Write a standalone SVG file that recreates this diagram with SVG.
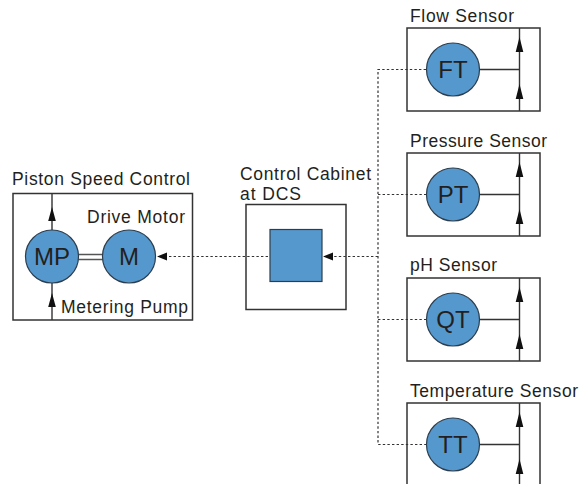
<svg xmlns="http://www.w3.org/2000/svg" width="580" height="484" viewBox="0 0 580 484">
<style>
text{font-family:"Liberation Sans",Arial,sans-serif;fill:#231f20}
.l{font-size:17.5px}
.c{font-size:24px;text-anchor:middle}
.b{fill:#fff;stroke:#333;stroke-width:1.5}
.n{fill:#5598cd;stroke:#2c3e4e;stroke-width:1.2}
.s{fill:none;stroke:#333;stroke-width:1.4}
.d{fill:none;stroke:#333;stroke-width:1.2;stroke-dasharray:2.4 2.2}
.a{fill:#111}
</style>
<rect width="580" height="484" fill="#fff"/>
<g id="flow-sensor">
<text class="l" x="410" y="21.500" textLength="104">Flow Sensor</text>
<rect class="b" x="407" y="28" width="133" height="83"/>
<path class="s" d="M479 69.500H519.500M519.500 28V111"/>
<path class="a" d="M519.500 37l3.800 15h-7.600zM519.500 84l3.800 15h-7.600z"/>
<circle class="n" cx="453" cy="69.500" r="26.500"/>
<text class="c" x="453" y="78">FT</text>
</g>
<g id="pressure-sensor">
<text class="l" x="410" y="146.500" textLength="137">Pressure Sensor</text>
<rect class="b" x="407" y="153" width="133" height="83"/>
<path class="s" d="M479 194.500H519.500M519.500 153V236"/>
<path class="a" d="M519.500 162l3.800 15h-7.600zM519.500 209l3.800 15h-7.600z"/>
<circle class="n" cx="453" cy="194.500" r="26.500"/>
<text class="c" x="453" y="203">PT</text>
</g>
<g id="ph-sensor">
<text class="l" x="410" y="270.500" textLength="87">pH Sensor</text>
<rect class="b" x="407" y="278" width="133" height="83"/>
<path class="s" d="M479 319.500H519.500M519.500 278V361"/>
<path class="a" d="M519.500 287l3.800 15h-7.600zM519.500 334l3.800 15h-7.600z"/>
<circle class="n" cx="453" cy="319.500" r="26.500"/>
<text class="c" x="453" y="328">QT</text>
</g>
<g id="temperature-sensor">
<text class="l" x="410" y="396.500" textLength="168">Temperature Sensor</text>
<rect class="b" x="407" y="403" width="133" height="83"/>
<path class="s" d="M479 444.500H519.500M519.500 403V486"/>
<path class="a" d="M519.500 412l3.800 15h-7.600zM519.500 459l3.800 15h-7.600z"/>
<circle class="n" cx="453" cy="444.500" r="26.500"/>
<text class="c" x="453" y="453">TT</text>
</g>
<g id="control-cabinet">
<text class="l" x="240" y="179.500" textLength="131">Control Cabinet</text>
<text class="l" x="240" y="200" textLength="61">at DCS</text>
<rect class="b" x="246" y="204.500" width="100" height="105"/>
<rect x="270" y="229.500" width="52" height="52" fill="#5598cd" stroke="#2c3e4e" stroke-width="1.2"/>
</g>
<g id="piston-speed-control">
<text class="l" x="12" y="185" textLength="178">Piston Speed Control</text>
<rect class="b" x="13" y="193.500" width="179.500" height="126.500"/>
<text class="l" x="87" y="223" textLength="98">Drive Motor</text>
<text class="l" x="61" y="312.500" textLength="127">Metering Pump</text>
<path class="s" d="M52 193.500V230M52 283V320" stroke-width="1.6"/>
<path class="a" d="M52 207l3.800 14h-7.600zM52 293l3.800 14h-7.600z"/>
<path fill="none" stroke="#555" stroke-width="1.6" d="M78 254.500H103M78 259.500H103"/>
<g id="metering-pump">
<circle class="n" cx="52" cy="256.500" r="26.500"/>
<text class="c" x="52" y="265">MP</text>
</g>
<g id="drive-motor">
<circle class="n" cx="129" cy="256.500" r="26.500"/>
<text class="c" x="129" y="265">M</text>
</g>
</g>
<g id="connectors">
<path class="d" d="M426 69.500H378V444.500H426M378 194.500H426M378 319.500H426"/>
<path class="d" d="M378 256.500H333M268 256.500H166"/>
<path class="a" d="M323 256.500l10-4v8zM157 256.500l10-4v8z"/>
</g>
</svg>
